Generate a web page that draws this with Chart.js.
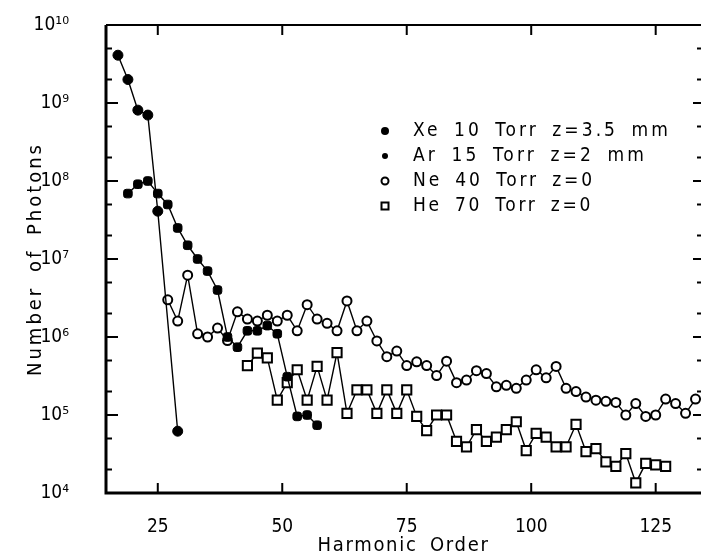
<!DOCTYPE html>
<html><head><meta charset="utf-8">
<script src="https://cdn.jsdelivr.net/npm/chart.js@4.4.0/dist/chart.umd.min.js"></script>
<style>html,body{margin:0;padding:0;background:#fff}#wrap{width:702px;height:558px}</style>
</head><body><div id="wrap"><canvas id="c" width="702" height="558"></canvas></div>
<script>
// ---- data ----
const xeOrders = [17, 19, 21, 23, 25, 29];
const xePhotons = [4.1e9, 2.0e9, 8.1e8, 7.0e8, 4.1e7, 6.2e4];

const arOrders = [19, 21, 23, 25, 27, 29, 31, 33, 35, 37, 39, 41, 43, 45, 47, 49, 51, 53, 55, 57];
const arPhotons = [6.9e7, 9.1e7, 1.0e8, 6.9e7, 5.0e7, 2.5e7, 1.5e7, 1.0e7, 7.0e6, 4.0e6, 1.0e6, 7.4e5, 1.2e6, 1.2e6, 1.4e6, 1.1e6, 3.1e5, 9.6e4, 1.0e5, 7.4e4];

const neOrders = [27, 29, 31, 33, 35, 37, 39, 41, 43, 45, 47, 49, 51, 53, 55, 57, 59, 61, 63, 65, 67, 69, 71, 73, 75, 77, 79, 81, 83, 85, 87, 89, 91, 93, 95, 97, 99, 101, 103, 105, 107, 109, 111, 113, 115, 117, 119, 121, 123, 125, 127, 129, 131, 133];
const nePhotons = [3.0e6, 1.6e6, 6.2e6, 1.1e6, 1.0e6, 1.3e6, 9.0e5, 2.1e6, 1.7e6, 1.6e6, 1.9e6, 1.6e6, 1.9e6, 1.2e6, 2.6e6, 1.7e6, 1.5e6, 1.2e6, 2.9e6, 1.2e6, 1.6e6, 8.9e5, 5.6e5, 6.6e5, 4.3e5, 4.8e5, 4.3e5, 3.2e5, 4.9e5, 2.6e5, 2.8e5, 3.7e5, 3.4e5, 2.3e5, 2.4e5, 2.2e5, 2.8e5, 3.8e5, 3.0e5, 4.2e5, 2.2e5, 2.0e5, 1.7e5, 1.55e5, 1.5e5, 1.45e5, 1.0e5, 1.4e5, 9.6e4, 1.0e5, 1.6e5, 1.4e5, 1.05e5, 1.6e5];

const heOrders = [43, 45, 47, 49, 51, 53, 55, 57, 59, 61, 63, 65, 67, 69, 71, 73, 75, 77, 79, 81, 83, 85, 87, 89, 91, 93, 95, 97, 99, 101, 103, 105, 107, 109, 111, 113, 115, 117, 119, 121, 123, 125, 127];
const hePhotons = [4.3e5, 6.2e5, 5.4e5, 1.55e5, 2.6e5, 3.8e5, 1.55e5, 4.2e5, 1.55e5, 6.3e5, 1.05e5, 2.1e5, 2.1e5, 1.05e5, 2.1e5, 1.05e5, 2.1e5, 9.6e4, 6.3e4, 1.0e5, 1.0e5, 4.6e4, 3.9e4, 6.5e4, 4.6e4, 5.2e4, 6.5e4, 8.2e4, 3.5e4, 5.8e4, 5.2e4, 3.9e4, 3.9e4, 7.6e4, 3.4e4, 3.7e4, 2.5e4, 2.2e4, 3.2e4, 1.35e4, 2.4e4, 2.3e4, 2.2e4];

const seriesLabels = ['Xe 10 Torr z=3.5 mm', 'Ar 15 Torr z=2 mm', 'Ne 40 Torr z=0', 'He 70 Torr z=0'];
const xTickValues = [25, 50, 75, 100, 125];
const yTickExponents = [4, 5, 6, 7, 8, 9, 10];
const xTitle = 'Harmonic Order';
const yTitle = 'Number of Photons';

// ---- helpers ----
const SUP = {'0':'⁰','1':'¹','2':'²','3':'³','4':'⁴','5':'⁵','6':'⁶','7':'⁷','8':'⁸','9':'⁹'};
const supStr = n => String(n).split('').map(c => SUP[c]).join('');
const pts = (xs, ys) => xs.map((x, i) => ({x: x, y: ys[i]}));
const FONT = "'DejaVu Sans Condensed', 'DejaVu Sans', sans-serif";

const PLOT = {left: 106, top: 25, right: 701, bottom: 493};

// fixed extra word spacing, letter spacing chosen so that text spans the target width
function applySpacing(ctx, font, text, target, ws) {
  ctx.font = font; ctx.letterSpacing = '0px'; ctx.wordSpacing = '0px';
  const w0 = ctx.measureText(text).width;
  const spaces = (text.match(/ /g) || []).length;
  const ls = (target - w0 - ws * spaces) / text.length;
  ctx.letterSpacing = Math.max(0, ls).toFixed(2) + 'px';
  ctx.wordSpacing = ws + 'px';
}

const common = {showLine: true, borderColor: '#000', borderWidth: 1.4, pointBorderColor: '#000', tension: 0};
const datasets = [
  Object.assign({}, common, {label: seriesLabels[0], data: pts(xeOrders, xePhotons), pointStyle: 'circle', pointRadius: 5, pointBackgroundColor: '#000', pointBorderWidth: 1}),
  Object.assign({}, common, {label: seriesLabels[1], data: pts(arOrders, arPhotons), pointStyle: 'rectRounded', pointRadius: 5, pointBackgroundColor: '#000', pointBorderWidth: 1}),
  Object.assign({}, common, {label: seriesLabels[2], data: pts(neOrders, nePhotons), pointStyle: 'circle', pointRadius: 4.5, pointBackgroundColor: '#fff', pointBorderWidth: 2}),
  Object.assign({}, common, {label: seriesLabels[3], data: pts(heOrders, hePhotons), pointStyle: 'rect', pointRadius: 6.5, pointBackgroundColor: '#fff', pointBorderWidth: 2})
];

function wrapSpacing(scale, font, text, target, ws) {
  if (scale._lsWrapped) return;
  const orig = scale.drawTitle;
  scale.drawTitle = function () {
    const c = this.ctx;
    c.save();
    applySpacing(c, font, text, target, ws);
    orig.apply(this, arguments);
    c.restore();
  };
  scale._lsWrapped = true;
}

const spacingPlugin = {
  id: 'spacing',
  afterLayout(chart) {
    wrapSpacing(chart.scales.x, '20px ' + FONT, xTitle, 172, 5);
    wrapSpacing(chart.scales.y, '20px ' + FONT, yTitle, 234, 5);
  }
};

const framePlugin = {
  id: 'frame',
  afterDraw(chart) {
    const ctx = chart.ctx, a = chart.chartArea, xs = chart.scales.x, ys = chart.scales.y;
    ctx.save();
    ctx.strokeStyle = '#000';
    ctx.lineCap = 'butt';
    ctx.lineWidth = 3;
    ctx.beginPath(); ctx.moveTo(a.left, a.top); ctx.lineTo(a.left, a.bottom); ctx.lineTo(a.right, a.bottom); ctx.stroke();
    ctx.lineWidth = 2.2;
    ctx.beginPath(); ctx.moveTo(a.left, a.top); ctx.lineTo(a.right, a.top); ctx.stroke();
    ctx.lineWidth = 2;
    yTickExponents.forEach(e => {
      const y = ys.getPixelForValue(Math.pow(10, e));
      ctx.beginPath(); ctx.moveTo(a.left, y); ctx.lineTo(a.left + 12, y); ctx.moveTo(a.right, y); ctx.lineTo(a.right - 8, y); ctx.stroke();
      if (e < 10) {
        [2, 5].forEach(m => {
          const ym = ys.getPixelForValue(m * Math.pow(10, e));
          ctx.beginPath(); ctx.moveTo(a.left, ym); ctx.lineTo(a.left + 6, ym); ctx.moveTo(a.right, ym); ctx.lineTo(a.right - 4, ym); ctx.stroke();
        });
      }
    });
    xTickValues.forEach(v => {
      const x = xs.getPixelForValue(v);
      ctx.beginPath(); ctx.moveTo(x, a.bottom); ctx.lineTo(x, a.bottom - 10); ctx.moveTo(x, a.top); ctx.lineTo(x, a.top + 10); ctx.stroke();
    });
    // legend
    const lx = 385, tx = 413, rows = [131, 156, 181, 206], widths = [258, 234, 182, 180];
    ctx.textBaseline = 'middle';
    ctx.textAlign = 'left';
    ctx.fillStyle = '#000';
    rows.forEach((ry, i) => {
      ctx.save();
      applySpacing(ctx, '19px ' + FONT, seriesLabels[i], widths[i], 5);
      ctx.fillText(seriesLabels[i], tx, ry);
      ctx.restore();
      ctx.beginPath();
      if (i === 0) { ctx.arc(lx, ry, 4, 0, Math.PI * 2); ctx.fill(); }
      else if (i === 1) { ctx.arc(lx, ry, 3, 0, Math.PI * 2); ctx.fill(); }
      else if (i === 2) { ctx.lineWidth = 2; ctx.arc(lx, ry, 3.5, 0, Math.PI * 2); ctx.stroke(); }
      else { ctx.lineWidth = 2; ctx.strokeRect(lx - 3.5, ry - 3.5, 7, 7); }
    });
    ctx.restore();
  }
};

const zeroPad = s => { s.paddingTop = 0; s.paddingBottom = 0; s.paddingLeft = 0; s.paddingRight = 0; };

new Chart(document.getElementById('c'), {
  type: 'scatter',
  data: {datasets: datasets},
  options: {
    responsive: false,
    animation: false,
    devicePixelRatio: 1,
    layout: {autoPadding: false, padding: {top: PLOT.top, right: 702 - PLOT.right, left: 0, bottom: 0}},
    plugins: {legend: {display: false}, tooltip: {enabled: false}},
    scales: {
      x: {
        type: 'linear', min: 14.6, max: 134.1,
        afterBuildTicks: s => { s.ticks = xTickValues.map(v => ({value: v})); },
        afterFit: s => { s.height = 558 - PLOT.bottom; zeroPad(s); },
        grid: {display: false, drawTicks: false},
        border: {display: false},
        ticks: {color: '#000', font: {family: FONT, size: 19}, padding: 23, maxRotation: 0, autoSkip: false, callback: v => String(v)},
        title: {display: true, text: xTitle, color: '#000', font: {family: FONT, size: 20}, padding: {top: 0, bottom: 0}}
      },
      y: {
        type: 'logarithmic', min: 1e4, max: 1e10,
        afterBuildTicks: s => { s.ticks = yTickExponents.map(e => ({value: Math.pow(10, e)})); },
        afterFit: s => { s.width = PLOT.left; zeroPad(s); },
        grid: {display: false, drawTicks: false},
        border: {display: false},
        ticks: {color: '#000', font: {family: FONT, size: 19}, padding: 37, autoSkip: false,
          callback: v => '10' + supStr(Math.round(Math.log10(v)))},
        title: {display: true, text: yTitle, color: '#000', font: {family: FONT, size: 20}, padding: {top: 24, bottom: 0}}
      }
    }
  },
  plugins: [spacingPlugin, framePlugin]
});
</script>
</body></html>
